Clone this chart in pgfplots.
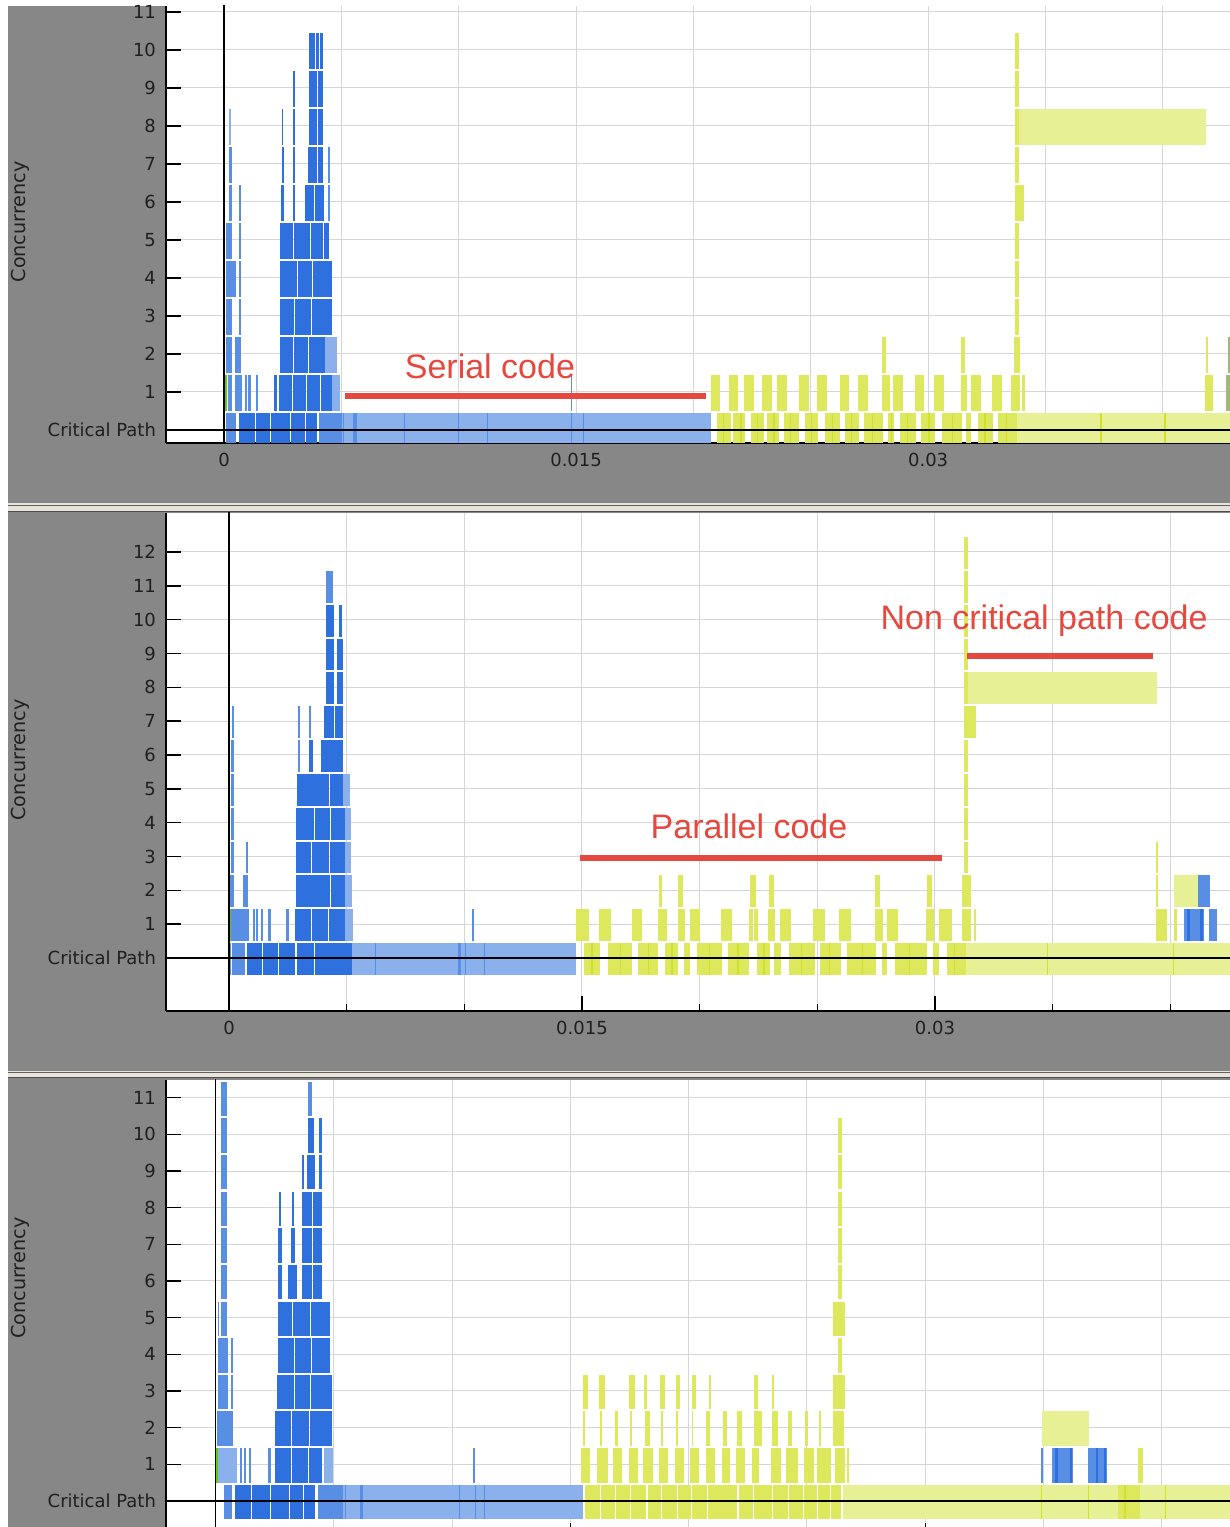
\documentclass[border=0pt]{standalone}
\usepackage{pgfplots}
\pgfplotsset{compat=1.18}
\usepackage{fontspec}
\setmainfont{DejaVu Sans}
\newfontfamily\annfont{Liberation Sans}

\definecolor{bdark}{RGB}{46,113,222}
\definecolor{bmid}{RGB}{88,143,228}
\definecolor{blight}{RGB}{138,177,236}
\definecolor{ymid}{RGB}{221,232,92}
\definecolor{ylight}{RGB}{232,240,150}
\definecolor{ydark}{RGB}{208,224,45}
\definecolor{ygray}{RGB}{160,185,120}
\definecolor{cpgreen}{RGB}{100,200,20}
\definecolor{redann}{RGB}{228,72,62}
\definecolor{bggray}{RGB}{135,135,135}
\definecolor{sepbeige}{RGB}{232,228,220}
\definecolor{sepdark}{RGB}{100,96,90}

\def\barw{17pt}
\newcommand{\bars}[2]{\addplot[draw=none, mark=none, forget plot,
  error bars/.cd, x dir=plus, x explicit, error mark=none,
  error bar style={line width=\barw, draw=#1, solid}]
  table[row sep=\\, x=a, y expr=\thisrow{L}-0.03, x error expr=\thisrow{b}-\thisrow{a}] {#2};}

\tikzset{ann/.style={text=redann, font=\annfont\fontsize{17}{20}\selectfont}}

\pgfplotsset{
  panel/.style={
    scale only axis, width=532pt,
    axis x line*=bottom, axis y line*=left,
    axis line style={-, black, line width=0.7pt},
    every outer x axis line/.append style={-},
    every outer y axis line/.append style={-},
    axis background/.style={fill=white},
    tick align=inside, tick style={black, line width=0.7pt},
    major tick length=7.5pt, minor tick length=3.5pt,
    xtick={0,15,30}, xticklabels={0,0.015,0.03},
    minor xtick={5,10,20,25,35,40},
    grid=both,
    major grid style={draw=black!16, line width=0.5pt},
    minor grid style={draw=black!16, line width=0.5pt},
    ticklabel style={font=\fontsize{9}{10}\selectfont, text=black!88},
    yticklabel style={xshift=-1.5pt},
    xticklabel style={yshift=-1.5pt},
    ylabel={Concurrency},
    clip=true,
  },
}

\begin{document}
\begin{tikzpicture}
\useasboundingbox (0,0) rectangle (615pt,763.5pt);
\clip (0,0) rectangle (615pt,763.5pt);
\fill[white] (0,0) rectangle (615pt,763.5pt);
% panel backgrounds
\fill[bggray] (4pt,512pt) rectangle (615pt,760.5pt);
\fill[sepbeige] (4pt,507.5pt) rectangle (615pt,512pt);
\fill[sepdark] (4pt,510.6pt) rectangle (615pt,511.1pt);
\fill[black!70] (4pt,507.4pt) rectangle (615pt,508.1pt);
\fill[bggray] (4pt,228pt) rectangle (615pt,507.4pt);
\fill[sepbeige] (4pt,224.5pt) rectangle (615pt,228pt);
\fill[sepdark] (4pt,227.2pt) rectangle (615pt,227.6pt);
\fill[black!70] (4pt,224.4pt) rectangle (615pt,225pt);
\fill[bggray] (4pt,0) rectangle (615pt,224.4pt);

% ================= PANEL 1 =================
\def\barw{17.86pt}
\begin{axis}[panel, at={(83pt,542pt)}, anchor=south west, height=218.5pt,
  xmin=-2.471, xmax=42.86, ymin=-0.342, ymax=11.158,
  ytick={0,...,11}, yticklabels={Critical Path,1,2,3,4,5,6,7,8,9,10,11},
  every axis y label/.style={at={(rel axis cs:-0.1372,0.506)}, rotate=90, anchor=center,
    font=\fontsize{9.6}{11}\selectfont, text=black!88}]
\bars{blight}{a b L\\ 5.03 20.75 0\\ 4.30 4.81 2\\ 4.60 4.94 1\\ 0.21 0.28 8\\}
\bars{bmid}{a b L\\ 0.09 0.51 0\\ 4.05 5.03 0\\ 5.06 5.10 0\\ 5.50 5.67 0\\ 7.67 7.71 0\\ 9.97 10.02 0\\ 11.21 11.25 0\\ 14.78 14.83 0\\ 15.30 15.34 0\\ 14.78 14.83 1\\ 0.17 0.34 1\\ 0.47 0.77 1\\ 0.89 0.98 1\\ 1.02 1.15 1\\ 1.36 1.45 1\\ 0.09 0.34 2\\ 0.47 0.72 2\\ 0.09 0.34 3\\ 0.64 0.72 3\\ 0.09 0.51 4\\ 0.64 0.72 4\\ 0.09 0.34 5\\ 0.64 0.72 5\\ 0.21 0.34 6\\ 0.64 0.72 6\\ 0.21 0.34 7\\ 4.43 4.52 7\\ 4.43 4.52 6\\}
\bars{bdark}{a b L\\ 0.64 1.32 0\\ 1.36 1.96 0\\ 2.00 2.81 0\\ 2.86 3.45 0\\ 3.49 3.96 0\\ 2.13 2.26 1\\ 2.34 2.90 1\\ 2.94 3.50 1\\ 3.54 4.10 1\\ 4.14 4.60 1\\ 2.39 2.95 2\\ 2.99 3.60 2\\ 3.64 4.30 2\\ 2.39 3.00 3\\ 3.04 3.70 3\\ 3.74 4.25 3\\ 4.28 4.60 3\\ 2.39 3.10 4\\ 3.14 3.75 4\\ 3.79 4.60 4\\ 2.39 2.95 5\\ 2.99 3.65 5\\ 3.69 4.20 5\\ 4.24 4.47 5\\ 2.43 2.56 6\\ 2.94 3.03 6\\ 3.45 3.85 6\\ 3.89 4.26 6\\ 2.47 2.56 7\\ 2.94 3.03 7\\ 3.58 3.95 7\\ 3.99 4.22 7\\ 2.47 2.53 8\\ 2.94 3.03 8\\ 3.62 3.95 8\\ 3.99 4.22 8\\ 2.94 3.03 9\\ 3.62 3.95 9\\ 3.99 4.22 9\\ 3.62 3.88 10\\ 3.92 4.05 10\\ 4.09 4.22 10\\}
\bars{cpgreen}{a b L\\ 0.04 0.13 1\\}
\bars{ylight}{a b L\\ 33.79 42.86 0\\ 33.70 41.84 8\\}
\bars{ymid}{a b L\\ 21.01 21.60 0\\ 21.69 22.20 0\\ 22.45 23.01 0\\ 23.14 23.65 0\\ 23.86 24.50 0\\ 24.76 25.31 0\\ 25.61 26.25 0\\ 26.46 27.06 0\\ 27.27 28.08 0\\ 28.29 28.55 0\\ 28.80 29.48 0\\ 29.70 30.29 0\\ 30.59 31.44 0\\ 31.61 31.83 0\\ 32.13 32.77 0\\ 32.98 33.79 0\\
20.73 21.13 1\\ 21.52 21.90 1\\ 22.16 22.58 1\\ 22.92 23.35 1\\ 23.56 23.99 1\\ 24.50 24.93 1\\ 25.27 25.70 1\\ 26.25 26.63 1\\ 27.01 27.44 1\\ 28.04 28.38 1\\ 28.50 28.93 1\\ 29.44 29.83 1\\ 30.25 30.68 1\\ 31.40 31.66 1\\ 31.83 32.25 1\\ 32.72 33.15 1\\ 33.53 33.92 1\\ 34.00 34.13 1\\ 41.80 42.14 1\\
28.04 28.21 2\\ 31.40 31.57 2\\ 33.66 33.92 2\\ 41.84 41.93 2\\
33.70 33.87 3\\ 33.70 33.87 4\\ 33.70 33.87 5\\ 33.70 34.09 6\\ 33.70 33.87 7\\ 33.70 33.87 8\\ 33.70 33.87 9\\ 33.70 33.87 10\\}
\bars{ydark}{a b L\\ 21.25 21.31 0\\ 22.00 22.06 0\\ 22.70 22.76 0\\ 23.40 23.46 0\\ 24.10 24.16 0\\ 25.00 25.06 0\\ 25.90 25.96 0\\ 26.70 26.76 0\\ 27.60 27.66 0\\ 28.40 28.46 0\\ 29.10 29.16 0\\ 30.00 30.06 0\\ 31.00 31.06 0\\ 32.40 32.46 0\\ 33.30 33.36 0\\ 37.32 37.40 0\\ 40.05 40.12 0\\}
\bars{ygray}{a b L\\ 42.69 42.86 1\\ 42.78 42.86 2\\}
\addplot[black, line width=0.65pt, forget plot] coordinates {(0,-2) (0,14)};
\addplot[black, line width=0.65pt, forget plot] coordinates {(-3,0) (45,0)};
\addplot[redann, line width=2.75pt, forget plot] coordinates {(5.16,0.895) (20.54,0.895)};
\node[ann] at (axis cs:11.33,1.684) {Serial code};
\end{axis}

% ================= PANEL 2 =================
\def\barw{15.9pt}
\begin{axis}[panel, at={(83pt,258pt)}, anchor=south west, height=249pt,
  xmin=-2.677, xmax=42.54, ymin=-1.567, ymax=13.153,
  ytick={0,...,12}, yticklabels={Critical Path,1,2,3,4,5,6,7,8,9,10,11,12},
  every axis y label/.style={at={(rel axis cs:-0.1372,0.504)}, rotate=90, anchor=center,
    font=\fontsize{9.6}{11}\selectfont, text=black!88}]
\bars{blight}{a b L\\ 5.23 14.75 0\\ 4.95 5.27 1\\ 4.95 5.23 2\\ 4.95 5.18 3\\ 4.95 5.18 4\\ 4.84 5.14 5\\}
\bars{bmid}{a b L\\ 0.00 0.08 0\\ 0.13 0.68 0\\ 6.20 6.25 0\\ 9.73 9.86 0\\ 10.03 10.07 0\\ 10.84 10.88 0\\ 10.33 10.41 1\\ 0.08 0.85 1\\ 1.02 1.10 1\\ 1.15 1.23 1\\ 1.36 1.44 1\\ 1.66 1.78 1\\ 2.42 2.55 1\\ 0.00 0.21 2\\ 0.59 0.81 2\\ 0.08 0.21 3\\ 0.72 0.81 3\\ 0.08 0.21 4\\ 0.08 0.21 5\\ 0.08 0.21 6\\ 0.12 0.22 7\\ 4.12 4.42 11\\ 2.93 3.00 6\\ 2.93 3.00 7\\ 3.40 3.48 7\\ 40.59 41.44 1\\ 41.65 41.99 1\\ 41.14 41.69 2\\}
\bars{bdark}{a b L\\ 0.76 1.40 0\\ 1.44 2.10 0\\ 2.14 2.80 0\\ 2.89 3.60 0\\ 3.64 4.40 0\\ 4.44 5.23 0\\ 2.80 3.50 1\\ 3.54 4.20 1\\ 4.24 4.95 1\\ 2.85 3.55 2\\ 3.59 4.30 2\\ 4.34 4.95 2\\ 2.85 3.50 3\\ 3.54 4.25 3\\ 4.29 4.95 3\\ 2.85 3.60 4\\ 3.64 4.30 4\\ 4.34 4.95 4\\ 2.89 3.55 5\\ 3.59 4.25 5\\ 4.29 4.84 5\\ 3.40 3.57 6\\ 3.91 4.40 6\\ 4.44 4.84 6\\ 4.04 4.45 7\\ 4.49 4.84 7\\ 4.12 4.46 8\\ 4.59 4.84 8\\ 4.12 4.46 9\\ 4.59 4.84 9\\ 4.12 4.46 10\\ 4.67 4.80 10\\ 40.70 40.85 1\\ 41.25 41.40 1\\}
\bars{cpgreen}{a b L\\ 0.00 0.08 1\\}
\bars{ylight}{a b L\\ 31.32 42.54 0\\ 31.24 39.44 8\\ 40.16 41.18 2\\}
\bars{ymid}{a b L\\ 15.09 15.77 0\\ 16.11 17.13 0\\ 17.38 18.23 0\\ 18.53 19.08 0\\ 19.34 19.59 0\\ 19.89 20.95 0\\ 21.21 22.10 0\\ 22.44 22.99 0\\ 23.16 23.46 0\\ 23.80 24.90 0\\ 25.12 26.01 0\\ 26.26 27.50 0\\ 27.75 27.96 0\\ 28.30 29.66 0\\ 29.92 30.17 0\\ 30.51 31.32 0\\
14.75 15.30 1\\ 15.72 16.23 1\\ 17.13 17.55 1\\ 18.23 18.61 1\\ 19.08 19.38 1\\ 19.59 20.02 1\\ 20.91 21.38 1\\ 22.10 22.27 1\\ 22.31 22.48 1\\ 22.91 23.20 1\\ 23.42 23.88 1\\ 24.82 25.33 1\\ 25.92 26.43 1\\ 27.45 27.79 1\\ 27.96 28.43 1\\ 29.62 29.96 1\\ 30.17 30.73 1\\ 31.15 31.53 1\\ 31.66 31.75 1\\ 39.40 39.86 1\\ 40.16 40.29 1\\
18.27 18.40 2\\ 19.08 19.29 2\\ 22.14 22.40 2\\ 22.95 23.16 2\\ 27.45 27.67 2\\ 29.66 29.88 2\\ 31.15 31.53 2\\ 39.40 39.48 2\\ 39.40 39.48 3\\
31.24 31.40 3\\ 31.24 31.40 4\\ 31.24 31.40 5\\ 31.24 31.40 6\\ 31.24 31.75 7\\ 31.24 31.40 8\\ 31.24 31.40 9\\ 31.24 31.40 10\\ 31.24 31.40 11\\ 31.24 31.40 12\\}
\bars{ydark}{a b L\\ 15.40 15.46 0\\ 16.60 16.66 0\\ 17.80 17.86 0\\ 18.80 18.86 0\\ 20.40 20.46 0\\ 21.60 21.66 0\\ 22.70 22.76 0\\ 24.30 24.36 0\\ 25.50 25.56 0\\ 26.90 26.96 0\\ 28.90 28.96 0\\ 30.80 30.86 0\\ 34.76 34.82 0\\ 40.12 40.18 0\\}
\addplot[black, line width=0.65pt, forget plot] coordinates {(0,-2) (0,14)};
\addplot[black, line width=0.65pt, forget plot] coordinates {(-3,0) (45,0)};
\addplot[redann, line width=2.75pt, forget plot] coordinates {(14.92,2.956) (30.30,2.956)};
\addplot[redann, line width=2.75pt, forget plot] coordinates {(31.36,8.93) (39.27,8.93)};
\node[ann] at (axis cs:22.10,3.90) {Parallel code};
\node[ann] at (axis cs:34.64,9.96) {Non critical path code};
\end{axis}

% ================= PANEL 3 =================
\def\barw{17.23pt}
\begin{axis}[panel, at={(83pt,223.5pt)}, anchor=north west, height=228.8pt,
  xmin=-2.092, xmax=42.88, ymin=-1.0, ymax=11.483, xticklabels={},
  ytick={0,...,11}, yticklabels={Critical Path,1,2,3,4,5,6,7,8,9,10,11},
  every axis y label/.style={at={(rel axis cs:-0.1372,0.567)}, rotate=90, anchor=center,
    font=\fontsize{9.6}{11}\selectfont, text=black!88}]
\bars{blight}{a b L\\ 5.39 15.53 0\\ 0.11 0.91 1\\ 4.60 4.97 1\\}
\bars{bmid}{a b L\\ 0.36 0.70 0\\ 4.33 5.39 0\\ 5.47 5.51 0\\ 6.11 6.24 0\\ 10.29 10.33 0\\ 10.97 11.01 0\\ 11.35 11.39 0\\ 10.90 10.97 1\\ 1.04 1.12 1\\ 1.20 1.29 1\\ 1.42 1.50 1\\ 2.22 2.35 1\\ 0.06 0.74 2\\ 0.11 0.53 3\\ 0.66 0.74 3\\ 0.11 0.53 4\\ 0.66 0.74 4\\ 0.11 0.15 5\\ 0.23 0.49 5\\ 0.23 0.49 6\\ 0.23 0.49 7\\ 0.23 0.49 8\\ 0.23 0.49 9\\ 0.23 0.49 10\\ 0.23 0.49 11\\ 3.91 4.08 11\\ 34.89 34.97 1\\ 35.35 36.24 1\\ 36.88 37.68 1\\}
\bars{bdark}{a b L\\ 0.82 1.50 0\\ 1.54 2.30 0\\ 2.34 3.10 0\\ 3.14 3.70 0\\ 3.74 4.21 0\\ 2.51 3.20 1\\ 3.24 3.90 1\\ 3.94 4.50 1\\ 2.51 3.20 2\\ 3.24 3.95 2\\ 3.99 4.92 2\\ 2.60 3.30 3\\ 3.34 4.00 3\\ 4.04 4.92 3\\ 2.64 3.30 4\\ 3.34 4.05 4\\ 4.09 4.84 4\\ 2.64 3.25 5\\ 3.29 4.00 5\\ 4.04 4.84 5\\ 2.64 2.81 6\\ 3.06 3.44 6\\ 3.66 4.10 6\\ 4.14 4.50 6\\ 2.64 2.81 7\\ 3.19 3.36 7\\ 3.66 4.10 7\\ 4.14 4.50 7\\ 2.68 2.77 8\\ 3.23 3.32 8\\ 3.66 4.10 8\\ 4.14 4.50 8\\ 3.66 3.74 9\\ 3.87 4.21 9\\ 4.37 4.50 9\\ 3.91 4.16 10\\ 4.37 4.50 10\\ 35.50 35.60 1\\ 36.10 36.20 1\\ 37.20 37.30 1\\ 37.55 37.65 1\\}
\bars{cpgreen}{a b L\\ 0.02 0.11 1\\}
\bars{ylight}{a b L\\ 26.52 42.88 0\\ 34.93 36.92 2\\}
\bars{ymid}{a b L\\ 15.60 16.25 0\\ 16.30 16.89 0\\ 16.92 17.53 0\\ 17.58 18.21 0\\ 18.26 18.81 0\\ 18.87 19.51 0\\ 19.56 20.09 0\\ 20.15 20.77 0\\ 20.83 21.43 0\\ 21.47 22.05 0\\ 22.11 22.72 0\\ 22.75 23.52 0\\ 23.58 24.18 0\\ 24.22 24.82 0\\ 24.86 25.41 0\\ 25.46 25.96 0\\ 26.01 26.42 0\\ 38.14 39.07 0\\
15.45 15.83 1\\ 16.12 16.59 1\\ 16.80 17.18 1\\ 17.48 17.86 1\\ 18.07 18.49 1\\ 18.74 19.12 1\\ 19.42 19.80 1\\ 20.06 20.44 1\\ 20.73 21.11 1\\ 21.41 21.75 1\\ 22.00 22.38 1\\ 22.67 22.97 1\\ 23.48 23.90 1\\ 24.11 24.62 1\\ 24.87 25.29 1\\ 25.42 26.01 1\\ 26.18 26.61 1\\ 26.69 26.78 1\\ 39.00 39.20 1\\
15.53 15.62 2\\ 16.25 16.32 2\\ 16.88 17.01 2\\ 17.52 17.60 2\\ 18.15 18.36 2\\ 18.83 18.92 2\\ 19.46 19.55 2\\ 20.13 20.17 2\\ 20.73 20.90 2\\ 21.45 21.62 2\\ 22.04 22.25 2\\ 22.76 23.10 2\\ 23.52 23.78 2\\ 24.19 24.36 2\\ 24.91 25.04 2\\ 25.49 25.58 2\\ 26.12 26.56 2\\
15.53 15.74 3\\ 16.21 16.46 3\\ 17.48 17.73 3\\ 18.11 18.24 3\\ 18.79 19.00 3\\ 19.46 19.63 3\\ 20.13 20.30 3\\ 20.85 20.94 3\\ 22.76 22.93 3\\ 23.52 23.61 3\\ 26.12 26.59 3\\
26.31 26.48 4\\ 26.12 26.59 5\\ 26.31 26.48 6\\ 26.31 26.48 7\\ 26.31 26.48 8\\ 26.31 26.48 9\\ 26.31 26.48 10\\}
\bars{ydark}{a b L\\ 34.89 34.95 0\\ 36.88 36.94 0\\ 38.40 38.50 0\\ 40.13 40.19 0\\}
\addplot[black, line width=0.65pt, forget plot] coordinates {(0,-2) (0,14)};
\addplot[black, line width=0.65pt, forget plot] coordinates {(-3,0) (45,0)};
\end{axis}
\end{tikzpicture}
\end{document}
